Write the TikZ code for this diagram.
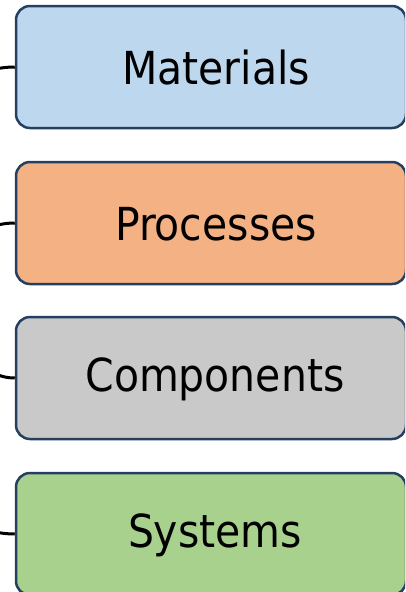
\documentclass[tikz,border=0pt]{standalone}
\usepackage{fontspec}
\setmainfont{DejaVu Sans Condensed}
\definecolor{edgeblue}{HTML}{243F60}
\definecolor{matfill}{HTML}{BDD7EE}
\definecolor{procfill}{HTML}{F4B183}
\definecolor{compfill}{HTML}{C9C9C9}
\definecolor{sysfill}{HTML}{A9D18E}
\tikzset{
  box/.style={draw=edgeblue, line width=2.5pt, rounded corners=14pt,
    minimum width=390pt, minimum height=122pt, inner sep=0pt},
  boxtext/.style={font=\fontsize{45.5}{54}\selectfont, text=black, inner sep=0pt}
}
\begin{document}
\begin{tikzpicture}[x=1pt,y=-1pt]
      \useasboundingbox (0,0) rectangle (405,592);
      \clip (0,0) rectangle (405,592);
      \coordinate (root) at (-70,300);
      \draw
        (211,67) node[box,fill=matfill] (mat){}
        (211,223) node[box,fill=procfill] (proc){}
        (211,378) node[box,fill=compfill] (comp){}
        (211,534) node[box,fill=sysfill] (sys){};
      \draw
        (216,68) node[boxtext] (matlbl){Materials}
        (216,224) node[boxtext] (proclbl){Processes}
        (215,379) node[boxtext] (complbl){Components}
        (215,535) node[boxtext] (syslbl){Systems};
      \begin{scope}[line width=3pt, black]
        \draw (root) to[out=90, in=180] (mat.west);
        \draw (root) to[out=60, in=180] (proc.west);
        \draw (root) to[out=-30, in=180] (comp.west);
        \draw (root) to[out=-90, in=180] (sys.west);
      \end{scope}
    \end{tikzpicture}
\end{document}
